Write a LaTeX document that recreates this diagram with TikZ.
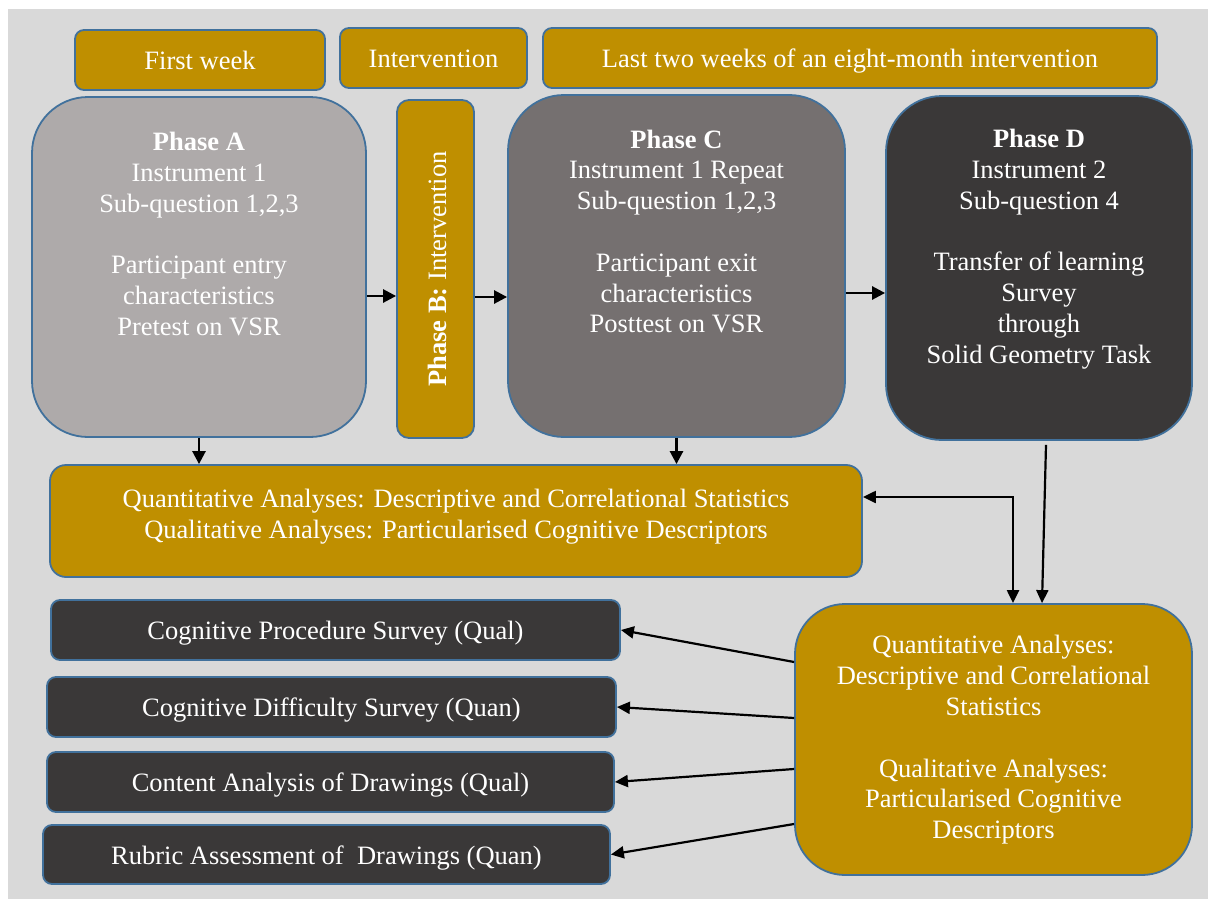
\documentclass[tikz,border=0pt]{standalone}
\usepackage{fontspec}
\setmainfont{Liberation Serif}
\usetikzlibrary{calc,arrows.meta}
\definecolor{panel}{HTML}{D9D9D9}
\definecolor{gold}{HTML}{BF8F00}
\definecolor{edge}{HTML}{41719C}
\definecolor{greyA}{HTML}{AEAAAA}
\definecolor{greyC}{HTML}{757070}
\definecolor{darkbox}{HTML}{3A3838}

\tikzset{
  box/.style={draw=edge, line width=1.8pt, inner sep=0pt, text=white, align=center,
              font=\fontsize{26.5}{30.8}\selectfont},
  txt/.style={text=white, align=center, inner sep=0pt, font=\fontsize{26.5}{30.8}\selectfont},
  oneline/.style={text height=25pt, text depth=6pt},
  tagbox/.style={box, oneline, fill=gold, rounded corners=9pt},
  phasebox/.style={box, rounded corners=56pt},
  resultbox/.style={box, oneline, fill=darkbox, rounded corners=9pt, minimum height=60pt},
  arr/.style={-{Triangle[length=13pt,width=13pt]}, line width=2.6pt},
  thinarr/.style={-{Triangle[length=13pt,width=12pt]}, line width=2.2pt},
}

\begin{document}
\begin{tikzpicture}[x=1pt,y=-1pt]
  \useasboundingbox (0,0) rectangle (1208,899);
  \fill[panel] (8,9) rectangle (1208,899);

  % time-line labels
  \node[tagbox, minimum width=250pt, minimum height=60pt] (fw) at (200,60) {First week};
  \node[tagbox, minimum width=187pt, minimum height=60pt] (iv) at (433.5,58) {Intervention};
  \node[tagbox, minimum width=614pt, minimum height=60pt] (lt) at (850,58) {Last two weeks of an eight-month intervention};

  % phases
  \node[phasebox, fill=greyA, minimum width=334pt, minimum height=340pt] (pa) at (199,267) {};
  \node[txt] (pat) at (199,234) {\textbf{Phase A}\\Instrument 1\\Sub-question 1,2,3\\[30.8pt]Participant entry\\characteristics\\Pretest on VSR};

  \node[box, fill=gold, rounded corners=12pt, minimum width=77pt, minimum height=338pt] (pb) at (435.5,269) {};
  \node[txt, rotate=90] (pbt) at (437,269) {\textbf{Phase B:} Intervention};

  \node[phasebox, fill=greyC, minimum width=337pt, minimum height=342pt] (pc) at (676.5,266) {};
  \node[txt] (pct) at (676.5,231.5) {\textbf{Phase C}\\Instrument 1 Repeat\\Sub-question 1,2,3\\[30.8pt]Participant exit\\characteristics\\Posttest on VSR};

  \node[phasebox, fill=darkbox, minimum width=306pt, minimum height=344pt] (pd) at (1039,268) {};
  \node[txt] (pdt) at (1039,249) {\textbf{Phase D}\\Instrument 2\\Sub-question 4\\[30.8pt]Transfer of learning\\Survey\\through\\Solid Geometry Task};

  % analyses
  \node[box, fill=gold, rounded corners=16pt, minimum width=812pt, minimum height=112pt] (qa) at (456,521) {};
  \node[txt] (qat) at (456,517) {Quantitative Analyses: Descriptive and Correlational Statistics\\Qualitative Analyses: Particularised Cognitive Descriptors};

  \node[box, fill=gold, rounded corners=50pt, minimum width=397pt, minimum height=271pt] (rb) at (993.5,739.5) {};
  \node[txt] (rbt) at (993.5,740) {Quantitative Analyses:\\Descriptive and Correlational\\Statistics\\[30.8pt]Qualitative Analyses:\\Particularised Cognitive\\Descriptors};

  % instruments of analysis
  \node[resultbox, minimum width=569pt] (d1) at (335.5,630) {Cognitive Procedure Survey (Qual)};
  \node[resultbox, minimum width=569pt] (d2) at (331.5,707) {Cognitive Difficulty Survey (Quan)};
  \node[resultbox, minimum width=567pt] (d3) at (330.5,782) {Content Analysis of Drawings (Qual)};
  \node[resultbox, minimum width=567pt, minimum height=59pt] (d4) at (326.5,854.5) {Rubric Assessment of~ Drawings (Quan)};

  % flow between phases
  \draw[arr] ($(pa.east)+(0,29)$) -- ($(pb.west)+(0,27)$);
  \draw[arr] ($(pb.east)+(0,28)$) -- ($(pc.west)+(0,31)$);
  \draw[arr] ($(pc.east)+(0,27)$) -- ($(pd.west)+(0,25)$);

  % phases into analyses
  \draw[arr] (pa.south) -- (pa.south |- qa.north);
  \draw[arr] (pc.south) -- (pc.south |- qa.north);
  \draw[thinarr, {Triangle[length=13pt,width=12pt]}-{Triangle[length=13pt,width=12pt]}]
    ($(qa.east)+(0,-24)$) -| ($(rb.north)+(19.5,0)$);
  \draw[thinarr] ($(pd.south)+(7,4)$) -- ($(rb.north)+(48.5,0)$);

  % analyses out to instruments
  \draw[thinarr] ($(rb.west)+(0,-77.5)$) -- (d1.east);
  \draw[thinarr] ($(rb.west)+(0,-21.5)$) -- (d2.east);
  \draw[thinarr] ($(rb.west)+(0,29.5)$) -- (d3.east);
  \draw[thinarr] ($(rb.west)+(0,84.5)$) -- (d4.east);
\end{tikzpicture}
\end{document}
